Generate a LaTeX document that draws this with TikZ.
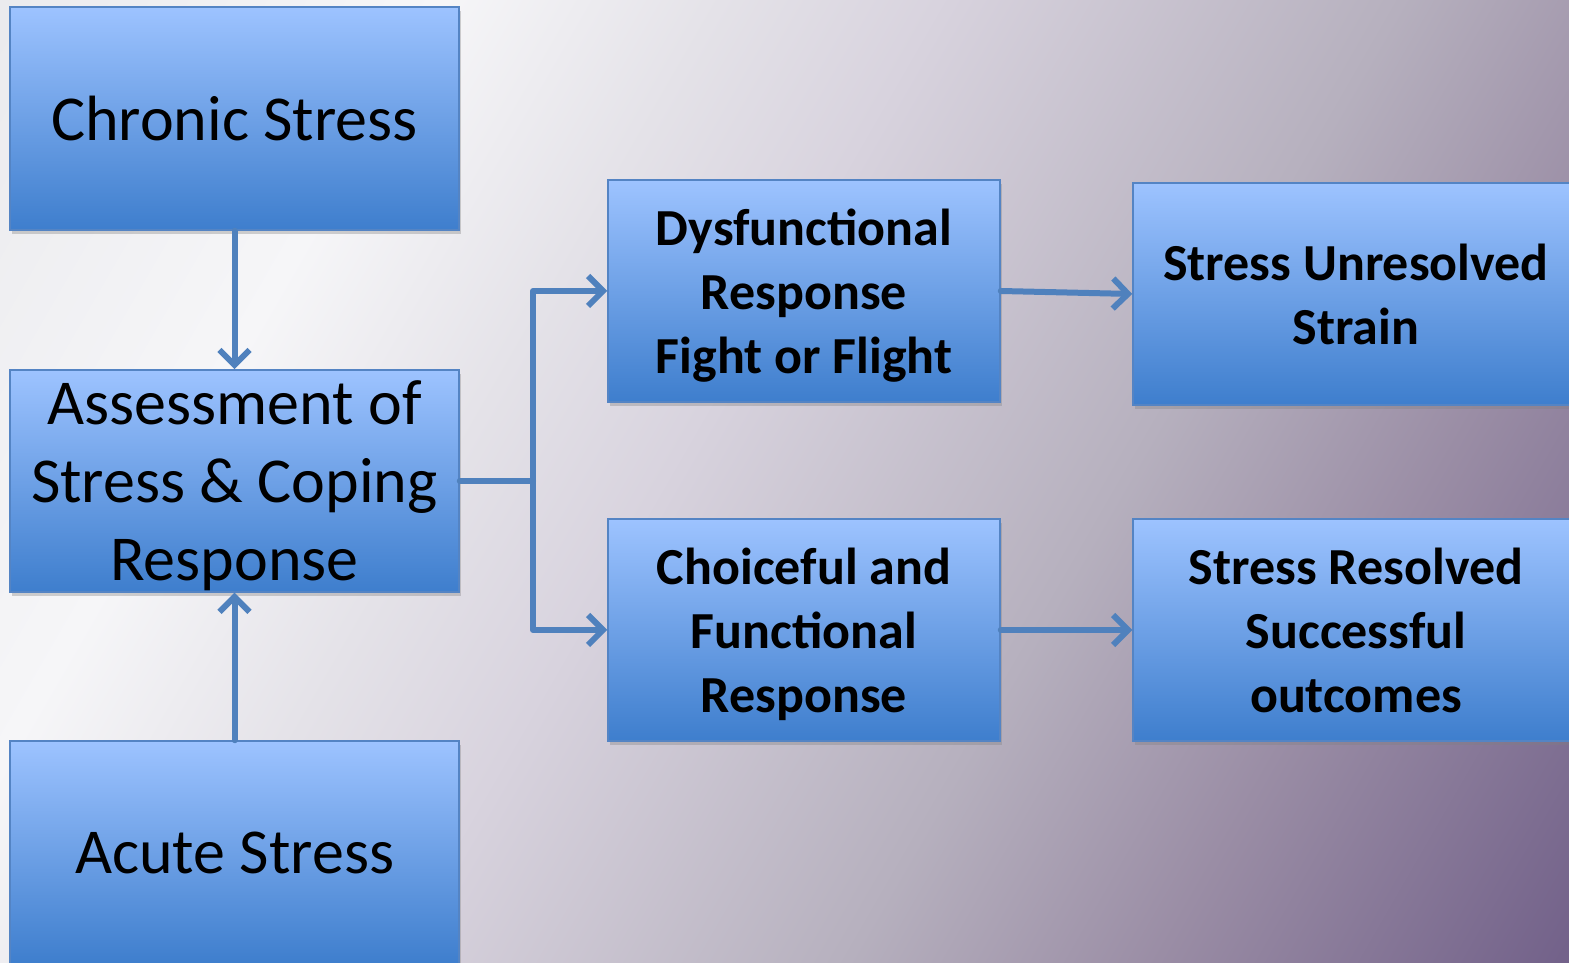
\documentclass[tikz,border=0pt]{standalone}
\usepackage{fontspec}
\setmainfont{Carlito}
\usepackage{tikz}
\usetikzlibrary{arrows.meta, positioning, shadows}
\definecolor{boxtop}{RGB}{157,195,255}
\definecolor{boxbot}{RGB}{62,126,205}
\definecolor{boxline}{RGB}{84,132,196}
\definecolor{arrowblue}{RGB}{79,129,189}
\definecolor{bgA}{RGB}{235,235,238}
\definecolor{bgB}{RGB}{246,246,248}
\definecolor{bgC}{RGB}{228,226,232}
\definecolor{bgD}{RGB}{216,211,222}
\definecolor{bgE}{RGB}{182,176,190}
\definecolor{bgF}{RGB}{154,141,165}
\definecolor{bgG}{RGB}{115,98,138}
\pgfdeclarehorizontalshading{bgfade}{100bp}{color(0bp)=(bgA); color(16bp)=(bgA); color(30bp)=(bgB); color(39bp)=(bgC); color(46bp)=(bgD); color(61bp)=(bgE); color(71bp)=(bgF); color(84bp)=(bgG); color(100bp)=(bgG)}

\begin{document}
\begin{tikzpicture}[x=1pt, y=1pt,
    stressbox/.style={draw=boxline, line width=1.5pt, top color=boxtop, bottom color=boxbot,
        minimum width=449pt, minimum height=223pt, inner sep=0pt, align=center, text depth=0pt,
        font=\fontsize{64pt}{78pt}\selectfont,
        drop shadow={opacity=0.35, shadow xshift=2pt, shadow yshift=-4pt}},
    resultbox/.style={stressbox, minimum width=392pt, minimum height=222pt,
        font=\bfseries\fontsize{52pt}{64pt}\selectfont},
    link/.style={draw=arrowblue, line width=6pt, line cap=round, line join=round,
        -{Straight Barb[length=15pt, width=30pt]}}]
    % fixed frame with the same size as the slide
    \useasboundingbox (0,0) rectangle (1569,963);
    \clip (0,0) rectangle (1569,963);
    % background fading from light grey to purple
    \shade[shading=bgfade, shading angle=-30] (0,0) rectangle (1569,963);

    % left column: the two kinds of stress and the assessment
    \node[stressbox] (chronic) at (234.5,844.5) {Chronic Stress};
    \node[stressbox, minimum height=222pt] (assess) at (234.5,482) {Assessment of\\Stress \& Coping\\Response};
    \node[stressbox] (acute) at (234.5,110.5) {Acute Stress};

    % middle column: the two responses
    \node[resultbox] (dysfunc) at (804,672) {Dysfunctional\\Response\\Fight or Flight};
    \node[resultbox] (choice) at (804,333) {Choiceful and\\Functional\\Response};

    % right column: outcomes (cut by the right edge)
    \node[resultbox, minimum width=446pt] (unresolved) at (1356,669) {Stress Unresolved\\Strain};
    \node[resultbox, minimum width=446pt] (resolved) at (1356,333) {Stress Resolved\\Successful\\outcomes};

    % arrows into the assessment
    \draw[link] (chronic) -- (assess);
    \draw[link] (acute) -- (assess);

    % fork from the assessment to both responses
    \coordinate (fork) at (533,482);
    \draw[link, -] (assess.east) -- (fork);
    \draw[link] (fork) |- (dysfunc.west);
    \draw[link] (fork) |- (choice.west);

    % responses to outcomes
    \draw[link] (dysfunc.east) -- (unresolved.west);
    \draw[link] (choice.east) -- (resolved.west);
\end{tikzpicture}
\end{document}
